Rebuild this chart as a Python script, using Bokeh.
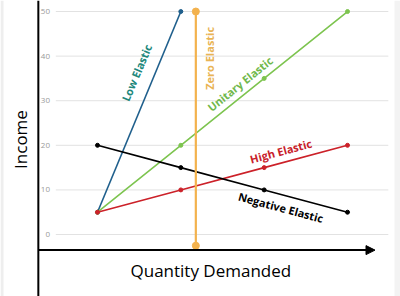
import math
from bokeh.plotting import figure
from bokeh.models import Range1d, Span, Arrow, NormalHead, ColumnDataSource, BoxAnnotation
from bokeh.core.properties import value
from bokeh.embed import file_html
from bokeh.resources import INLINE

# ---- data ----
quantity = [1, 2, 3, 4]
low_x = [1, 2]
low_y = [5, 50]
zero_x = [2.18, 2.18]
zero_y = [50, -2.5]
unitary_y = [5, 20, 35, 50]
high_y = [5, 10, 15, 20]
negative_y = [20, 15, 10, 5]
y_ticks = [0, 10, 20, 30, 40, 50]
y_tick_labels = ["0", "10", "20", "30", "40", "50"]

FONT = "Open Sans"

p = figure(width=400, height=296, output_backend="svg", toolbar_location=None,
           x_range=Range1d(-0.164, 4.636), y_range=Range1d(-13.9, 52.47),
           x_axis_location=None, y_axis_location=None, min_border=0)
p.outline_line_color = None
p.xgrid.visible = False
p.ygrid.visible = False
p.background_fill_color = "white"
p.border_fill_color = "white"

# faint card edges
p.add_layout(BoxAnnotation(left=0, right=3, left_units="screen", right_units="screen",
                           fill_color="#eeeeee", fill_alpha=1, line_color=None))
p.add_layout(BoxAnnotation(left=394, right=400, left_units="screen", right_units="screen",
                           fill_color="#f3f3f3", fill_alpha=1, line_color=None))

# gridlines
p.segment(x0=[0.5] * len(y_ticks), x1=[4.49] * len(y_ticks), y0=y_ticks, y1=y_ticks,
          line_color="#e2e2e2", line_width=1)
p.text(x=[0.43] * len(y_ticks), y=y_ticks, text=y_tick_labels, text_align="right",
       text_baseline="middle", text_font_size="8px", text_color="#9a9a9a",
       text_font=value(FONT))

# axes
p.add_layout(Span(location=0.29, dimension="height", line_color="black", line_width=2))
p.add_layout(Arrow(end=NormalHead(size=9, fill_color="black", line_color="black"),
                   x_start=0.29, y_start=-3.5, x_end=4.33, y_end=-3.5,
                   line_color="black", line_width=2))

# series
p.line(low_x, low_y, line_color="#1f5f8c", line_width=1.6)
p.scatter(low_x, low_y, size=4, color="#1f5f8c")

p.line(quantity, unitary_y, line_color="#7dc44f", line_width=1.6)
p.scatter(quantity, unitary_y, size=4, color="#7dc44f")

p.line(quantity, high_y, line_color="#cc2129", line_width=1.6)
p.scatter(quantity, high_y, size=4, color="#cc2129")

p.line(quantity, negative_y, line_color="black", line_width=1.6)
p.scatter(quantity, negative_y, size=4, color="black")

p.line(zero_x, zero_y, line_color="#f3b24d", line_width=2.2)
p.scatter(zero_x, zero_y, size=7, color="#f3b24d")

# series labels
lab = ColumnDataSource(dict(
    x=[1.47, 2.34, 2.71, 3.2, 3.2],
    y=[36.3, 39.5, 33.8, 18.7, 6.1],
    text=["Low Elastic", "Zero Elastic", "Unitary Elastic", "High Elastic", "Negative Elastic"],
    angle=[math.radians(67.3), math.radians(90), math.radians(38.8), math.radians(15), math.radians(-15)],
    color=["#21877b", "#e9b455", "#70b84c", "#c8202a", "black"],
))
p.text(x="x", y="y", text="text", angle="angle", text_color="color", source=lab,
       text_align="center", text_baseline="middle", text_font_size="11px",
       text_font_style="bold", text_font=value(FONT))

# axis titles
p.text(x=[0.076], y=[21.3], text=["Income"], angle=[math.pi / 2], text_align="center",
       text_baseline="middle", text_font_size="17px", text_color="black",
       text_font=value(FONT))
p.text(x=[2.36], y=[-8.1], text=["Quantity Demanded"], text_align="center",
       text_baseline="middle", text_font_size="17px", text_color="black",
       text_font=value(FONT))

open("out.html", "w").write(file_html(p, INLINE))
